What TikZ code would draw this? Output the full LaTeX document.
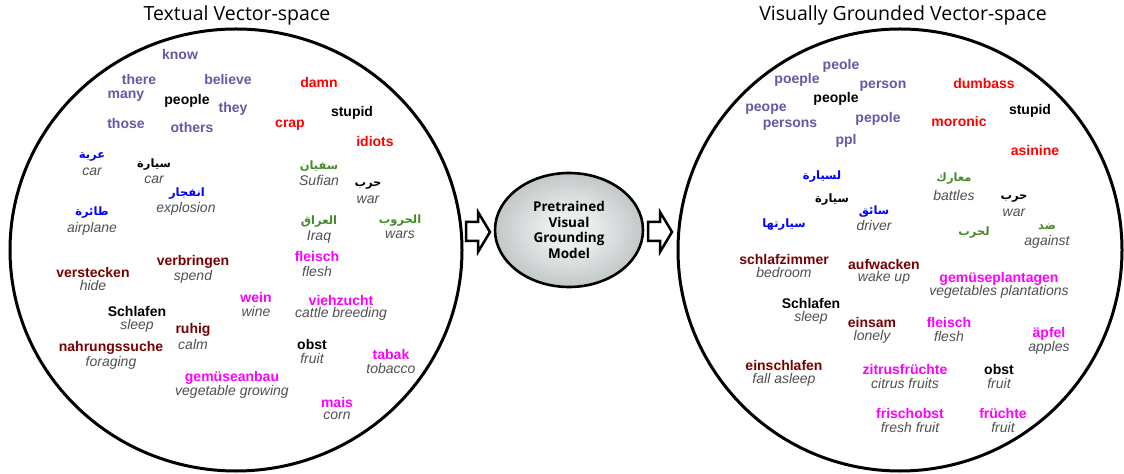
\documentclass[tikz,border=0pt]{standalone}
\usepackage{fontspec}
\setmainfont{Liberation Sans}
\newfontfamily\titlefont{Open Sans}
\newfontfamily\arfont[Script=Arabic]{DejaVu Sans}
\TeXXeTstate=1
\usetikzlibrary{shapes.geometric}
\definecolor{cpurple}{RGB}{104,86,168}
\definecolor{cred}{RGB}{255,0,0}
\definecolor{cmag}{RGB}{255,0,255}
\definecolor{cdred}{RGB}{120,0,0}
\definecolor{cblue}{RGB}{0,0,255}
\definecolor{cgreen}{RGB}{70,140,40}
\definecolor{trgray}{RGB}{80,80,80}
\definecolor{glowin}{RGB}{234,237,237}
\definecolor{glowout}{RGB}{135,143,144}
\pgfdeclareradialshading{modelglow}{\pgfpoint{0bp}{0bp}}{color(0bp)=(glowin); color(8bp)=(glowin); color(50bp)=(glowout)}
\begin{document}
\begin{tikzpicture}[x=1bp,y=-1bp,
  wd/.style={font=\fontsize{14bp}{16bp}\selectfont\bfseries, inner sep=0pt},
  tr/.style={font=\fontsize{14bp}{16bp}\selectfont\itshape, text=trgray, inner sep=0pt},
  ar/.style={font=\arfont\bfseries\fontsize{11.5bp}{13bp}\selectfont, inner sep=0pt},
  pu/.style={wd,text=cpurple}, rd/.style={wd,text=cred}, bk/.style={wd,text=black},
  mg/.style={wd,text=cmag}, dr/.style={wd,text=cdred},
  arb/.style={ar,text=cblue}, arg/.style={ar,text=cgreen}, ark/.style={ar,text=black},
  vecspace/.style={draw, ellipse, line width=3bp, inner sep=0pt},
  ttl/.style={font=\titlefont\fontsize{19.5bp}{22bp}\selectfont, inner sep=0pt},
  blockarrow/.style={draw, line width=2.5bp, fill=white, line join=miter},
  model/.style={draw, ellipse, line width=2.6bp, shading=modelglow, inner sep=0pt,
     minimum width=148bp, minimum height=114bp, align=center,
     font=\titlefont\bfseries\fontsize{13.5bp}{15.7bp}\selectfont}]
\fill[white] (0,0) rectangle (1124,474);
\useasboundingbox (0,0) rectangle (1124,474);

% titles
\node[ttl] (t1) at (237,15) {Textual Vector-space};
\node[ttl] (t2) at (903,15) {Visually Grounded Vector-space};

% spaces
\node[vecspace, minimum width=452bp, minimum height=442bp] (lspace) at (236,250) {};
\node[vecspace, minimum width=444bp, minimum height=442bp] (rspace) at (900,250) {};

% model
\node[model] (mdl) at (569,230) {Pretrained\\Visual\\Grounding\\Model};

% block arrows
\draw[blockarrow] (466,222) -- (478,222) -- (478,212) -- (490,232) -- (478,252) -- (478,241) -- (466,241) -- cycle;
\draw[blockarrow] (648,222) -- (660,222) -- (660,212) -- (672,232) -- (660,252) -- (660,241) -- (648,241) -- cycle;

% ---------- left space ----------
\node[pu] (l1) at (180,55) {know};
\node[pu] (l2) at (139,80) {there};
\node[pu] (l3) at (228,80) {believe};
\node[rd] (l4) at (319,83) {damn};
\node[pu] (l5) at (126,96) {many};
\node[bk] (l6) at (187,101) {people};
\node[pu] (l7) at (233,109) {they};
\node[bk] (l8) at (352,113) {stupid};
\node[pu] (l9) at (126,123) {those};
\node[pu] (l10) at (192,127) {others};
\node[rd] (l11) at (290,125) {crap};
\node[rd] (l12) at (375,141) {idiots};

\node[arb] (a1) at (92,157) {\beginR عربة\endR};
\node[tr] (a1t) at (92,172) {car};
\node[ark] (a2) at (154,165) {\beginR سيارة\endR};
\node[tr] (a2t) at (154,180) {car};
\node[arb] (a3) at (187,194) {\beginR انفجار\endR};
\node[tr] (a3t) at (186,209) {explosion};
\node[arb] (a4) at (92,213) {\beginR طائرة\endR};
\node[tr] (a4t) at (92,229) {airplane};
\node[arg] (a5) at (319,166) {\beginR سفيان\endR};
\node[tr] (a5t) at (319,180) {Sufian};
\node[ark] (a6) at (368,186) {\beginR حرب\endR};
\node[tr] (a6t) at (368,200) {war};
\node[arg] (a7) at (319,222) {\beginR العراق\endR};
\node[tr] (a7t) at (319,237) {Iraq};
\node[arg] (a8) at (400,221) {\beginR الحروب\endR};
\node[tr] (a8t) at (400,235) {wars};

\node[dr] (g1) at (193,262) {verbringen};
\node[tr] (g1t) at (193,277) {spend};
\node[mg] (g2) at (317,256) {fleisch};
\node[tr] (g2t) at (317,271) {flesh};
\node[dr] (g3) at (93,272) {verstecken};
\node[tr] (g3t) at (93,286) {hide};
\node[mg] (g4) at (256,297) {wein};
\node[tr] (g4t) at (256,311) {wine};
\node[mg] (g5) at (341,300) {viehzucht};
\node[tr] (g5t) at (341,314) {cattle breeding};
\node[bk] (g6) at (137,311) {Schlafen};
\node[tr] (g6t) at (137,326) {sleep};
\node[dr] (g7) at (193,330) {ruhig};
\node[tr] (g7t) at (193,344) {calm};
\node[dr] (g8) at (111,348) {nahrungssuche};
\node[tr] (g8t) at (111,363) {foraging};
\node[bk] (g9) at (312,344) {obst};
\node[tr] (g9t) at (312,358) {fruit};
\node[mg] (g10) at (391,354) {tabak};
\node[tr] (g10t) at (391,368) {tobacco};
\node[mg] (g11) at (232,378) {gemüseanbau};
\node[tr] (g11t) at (232,392) {vegetable growing};
\node[mg] (g12) at (337,402) {mais};
\node[tr] (g12t) at (337,416) {corn};

% ---------- right space ----------
\node[pu] (r1) at (841,66) {peole};
\node[pu] (r2) at (797,80) {poeple};
\node[pu] (r3) at (883,86) {person};
\node[rd] (r4) at (984,84) {dumbass};
\node[bk] (r5) at (836,99) {people};
\node[bk] (r6) at (1030,111) {stupid};
\node[pu] (r7) at (766,109) {peope};
\node[pu] (r8) at (878,119) {pepole};
\node[rd] (r9) at (959,121) {moronic};
\node[pu] (r10) at (790,125) {persons};
\node[pu] (r11) at (846,141) {ppl};
\node[rd] (r12) at (1035,150) {asinine};

\node[arb] (b1) at (822,177) {\beginR لسيارة\endR};
\node[arg] (b2) at (954,179) {\beginR معارك\endR};
\node[tr] (b2t) at (954,195) {battles};
\node[ark] (b3) at (832,200) {\beginR سيارة\endR};
\node[ark] (b4) at (1014,199) {\beginR حرب\endR};
\node[tr] (b4t) at (1014,213) {war};
\node[arb] (b5) at (874,212) {\beginR سائق\endR};
\node[tr] (b5t) at (874,226) {driver};
\node[arb] (b6) at (784,225) {\beginR سيارتها\endR};
\node[arg] (b7) at (974,233) {\beginR لحرب\endR};
\node[arg] (b8) at (1047,227) {\beginR ضد\endR};
\node[tr] (b8t) at (1047,242) {against};

\node[dr] (h1) at (784,259) {schlafzimmer};
\node[tr] (h1t) at (784,273) {bedroom};
\node[dr] (h2) at (884,264) {aufwacken};
\node[tr] (h2t) at (884,278) {wake up};
\node[mg] (h3) at (999,279) {gemüseplantagen};
\node[tr] (h3t) at (999,292) {vegetables plantations};
\node[bk] (h4) at (811,303) {Schlafen};
\node[tr] (h4t) at (811,318) {sleep};
\node[dr] (h5) at (872,322) {einsam};
\node[tr] (h5t) at (872,337) {lonely};
\node[mg] (h6) at (949,322) {fleisch};
\node[tr] (h6t) at (949,336) {flesh};
\node[mg] (h7) at (1049,334) {äpfel};
\node[tr] (h7t) at (1049,348) {apples};
\node[dr] (h8) at (784,365) {einschlafen};
\node[tr] (h8t) at (784,380) {fall asleep};
\node[mg] (h9) at (905,369) {zitrusfrüchte};
\node[tr] (h9t) at (905,383) {citrus fruits};
\node[bk] (h10) at (999,369) {obst};
\node[tr] (h10t) at (999,383) {fruit};
\node[mg] (h11) at (910,413) {frischobst};
\node[tr] (h11t) at (910,427) {fresh fruit};
\node[mg] (h12) at (1003,413) {früchte};
\node[tr] (h12t) at (1003,427) {fruit};
\end{tikzpicture}
\end{document}
